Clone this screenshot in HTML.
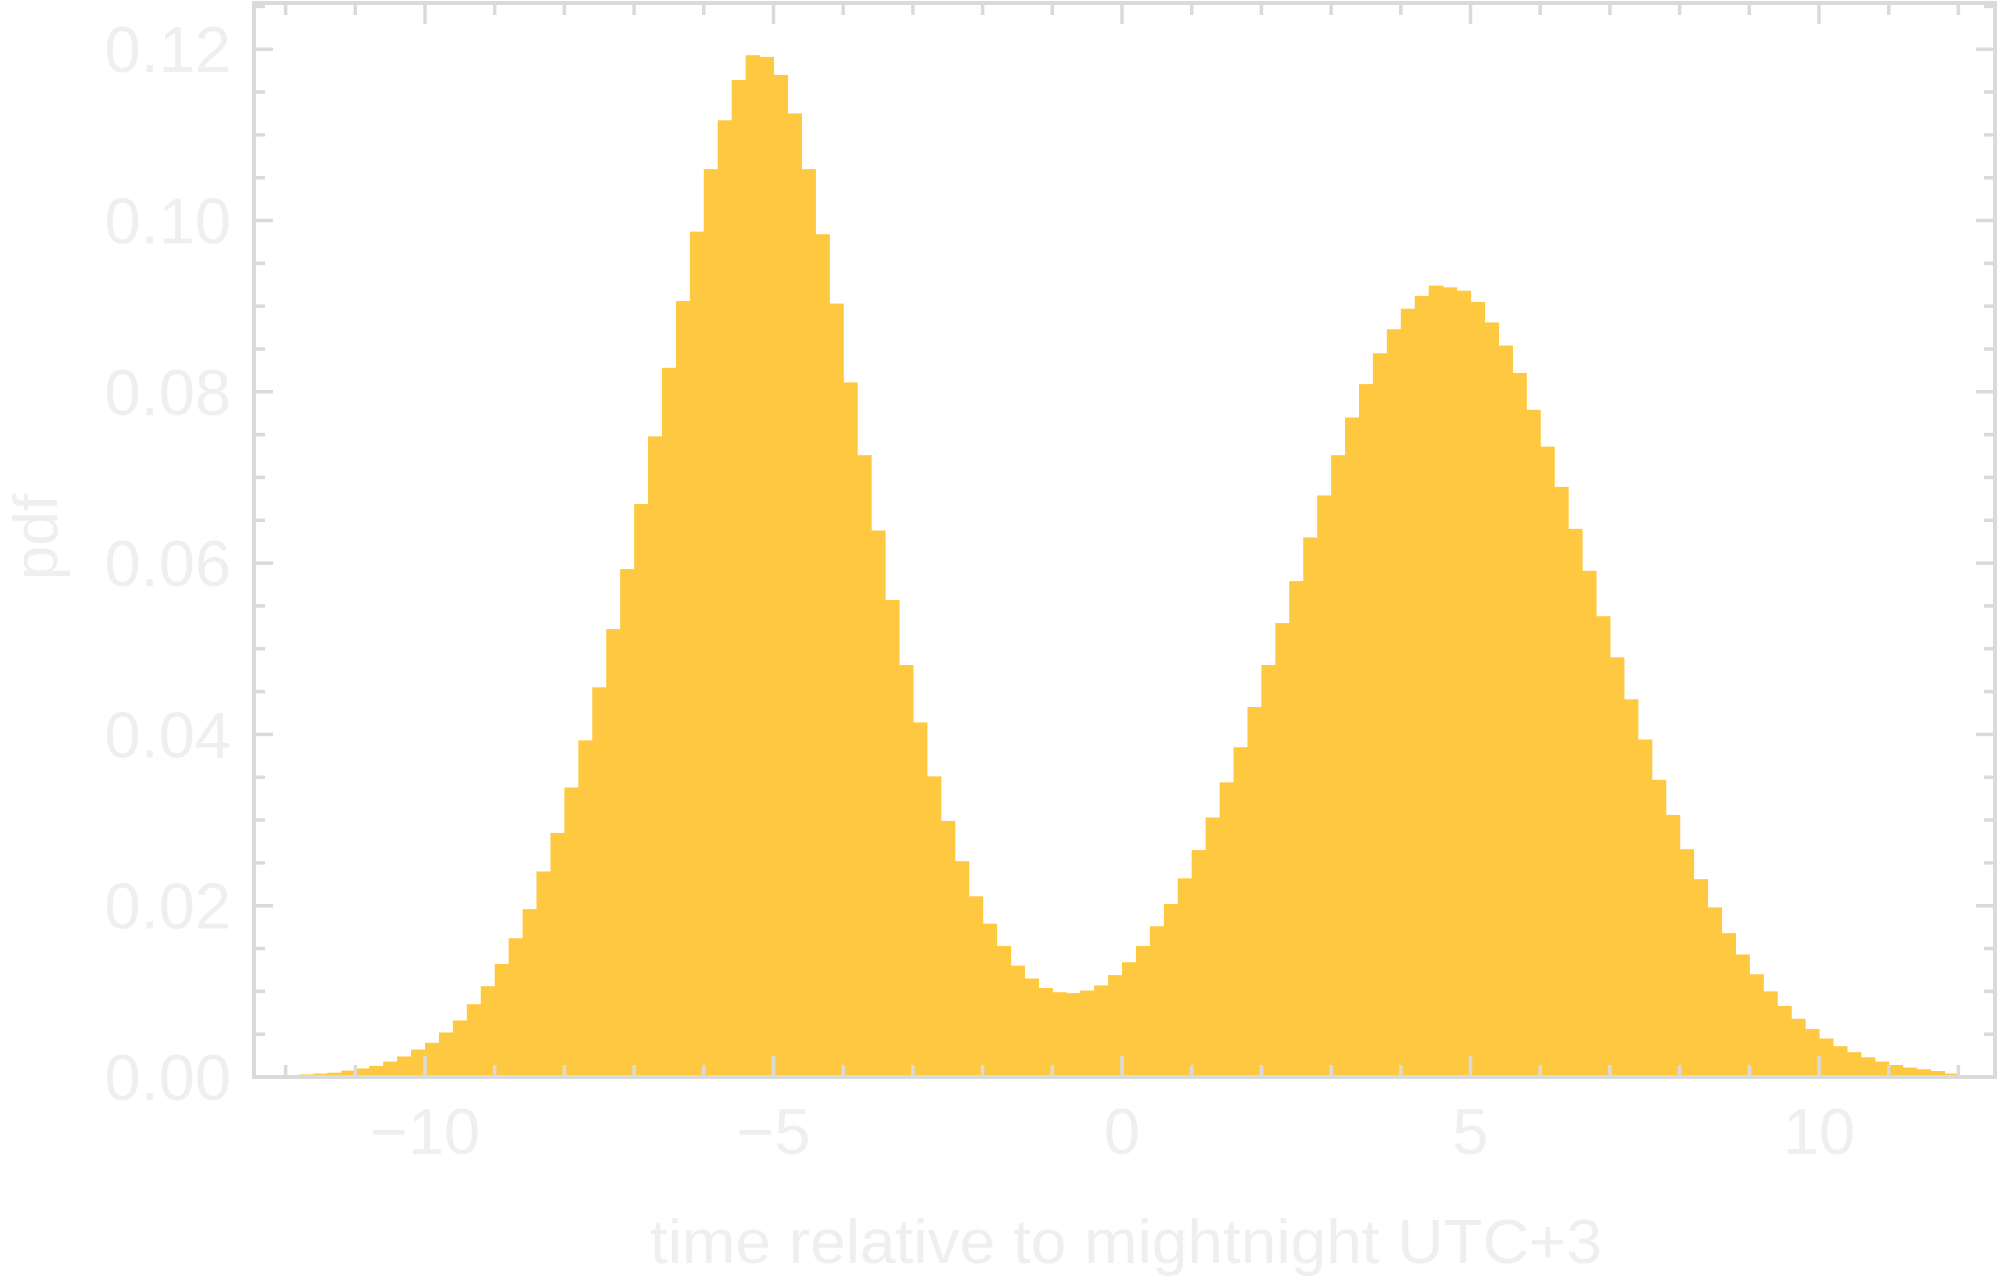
<!DOCTYPE html>
<html><head><meta charset="utf-8"><style>
html,body{margin:0;padding:0;background:#fff;}
svg{display:block;}
text{font-family:"Liberation Sans",Arial,sans-serif;fill:#efefef;}
</style></head><body>
<svg id="chart" width="2000" height="1284" viewBox="0 0 2000 1284" xmlns="http://www.w3.org/2000/svg">
<g id="bars"></g>
<g id="axes"></g>
</svg>
<script>
const binStart = -12;
const binWidth = 0.2;
const pdfValues = [
0.0001,0.0003,0.0004,0.0005,0.00075,0.0010,0.0013,0.0018,0.0024,0.0032,
0.0040,0.0052,0.0066,0.0085,0.0106,0.0132,0.0162,0.0196,0.0240,0.0285,
0.0338,0.0393,0.0455,0.0523,0.0593,0.0669,0.0748,0.0828,0.0906,0.0987,
0.1060,0.1117,0.1164,0.1193,0.1191,0.1170,0.1125,0.1060,0.0984,0.0903,
0.0811,0.0726,0.0638,0.0557,0.0481,0.0414,0.0351,0.0299,0.0252,0.0211,
0.0179,0.0153,0.0130,0.0115,0.0104,0.0099,0.0098,0.0101,0.0107,0.0119,
0.0134,0.0153,0.0176,0.0202,0.0232,0.0265,0.0303,0.0344,0.0385,0.0432,
0.0481,0.0530,0.0579,0.0630,0.0679,0.0726,0.0770,0.0809,0.0845,0.0873,
0.0897,0.0912,0.0924,0.0922,0.0918,0.0905,0.0881,0.0854,0.0822,0.0779,
0.0736,0.0689,0.0640,0.0591,0.0538,0.0490,0.0441,0.0394,0.0347,0.0306,
0.0266,0.0231,0.0198,0.0168,0.0143,0.0120,0.0100,0.0083,0.0068,0.0056,
0.0045,0.0036,0.0029,0.0023,0.0018,0.0014,0.0011,0.0009,0.0007,0.0004
];
const xTickValues = [-10,-5,0,5,10];
const xTickLabels = ["\u221210","\u22125","0","5","10"];
const yTickValues = [0,0.02,0.04,0.06,0.08,0.10,0.12];
const yTickLabels = ["0.00","0.02","0.04","0.06","0.08","0.10","0.12"];

const NS="http://www.w3.org/2000/svg";
const L=254,R=1995,T=3,B=1077;
const X0=1122, XU=69.7;
function xs(v){return X0+v*XU;}
function ys(v){return B-v/0.02*171.3;}
function mk(tag,attrs,parent){const e=document.createElementNS(NS,tag);for(const k in attrs)e.setAttribute(k,attrs[k]);parent.appendChild(e);return e;}

const barsG=document.getElementById('bars');
pdfValues.forEach((v,i)=>{
  const x1=xs(binStart+i*binWidth), x2=xs(binStart+(i+1)*binWidth);
  const r=mk('rect',{x:x1,y:ys(v),width:x2-x1+0.6,height:B-ys(v),fill:'#fec941'},barsG);
  
  
});

const ax=document.getElementById('axes');
const tc='#dadada';
const frame=mk('rect',{x:L,y:T,width:R-L,height:B-T,fill:'none',stroke:tc,'stroke-width':4},ax);


// x ticks
for(let v=-12;v<=12;v++){
  const major=v%5===0, len=major?21:12, x=xs(v);
  mk('line',{x1:x,y1:B,x2:x,y2:B-len,stroke:tc,'stroke-width':3.5},ax);
  mk('line',{x1:x,y1:T,x2:x,y2:T+len,stroke:tc,'stroke-width':3.5},ax);
}
// y ticks
for(let k=0;k<=25;k++){
  const v=k*0.005, major=k%4===0, len=major?19:11, y=ys(v);
  if(y<T+2)continue;
  mk('line',{x1:L,y1:y,x2:L+len,y2:y,stroke:tc,'stroke-width':3.5},ax);
  mk('line',{x1:R,y1:y,x2:R-len,y2:y,stroke:tc,'stroke-width':3.5},ax);
}
xTickValues.forEach((v,i)=>{
  const t=mk('text',{x:xs(v),y:1154,'font-size':65,'text-anchor':'middle'},ax);
  t.textContent=xTickLabels[i];
  
  
});
yTickValues.forEach((v,i)=>{
  const t=mk('text',{x:231,y:ys(v)+23,'font-size':65,'text-anchor':'end'},ax);
  t.textContent=yTickLabels[i];
  
  
});
const xt=mk('text',{x:1126,y:1263,'font-size':62,'text-anchor':'middle',textLength:952,lengthAdjust:'spacingAndGlyphs'},ax);
xt.textContent='time relative to mightnight UTC+3';


const yt=mk('text',{x:0,y:0,'font-size':62,'text-anchor':'middle',transform:'translate(57,537) rotate(-90)'},ax);
yt.textContent='pdf';


</script>
</body></html>
